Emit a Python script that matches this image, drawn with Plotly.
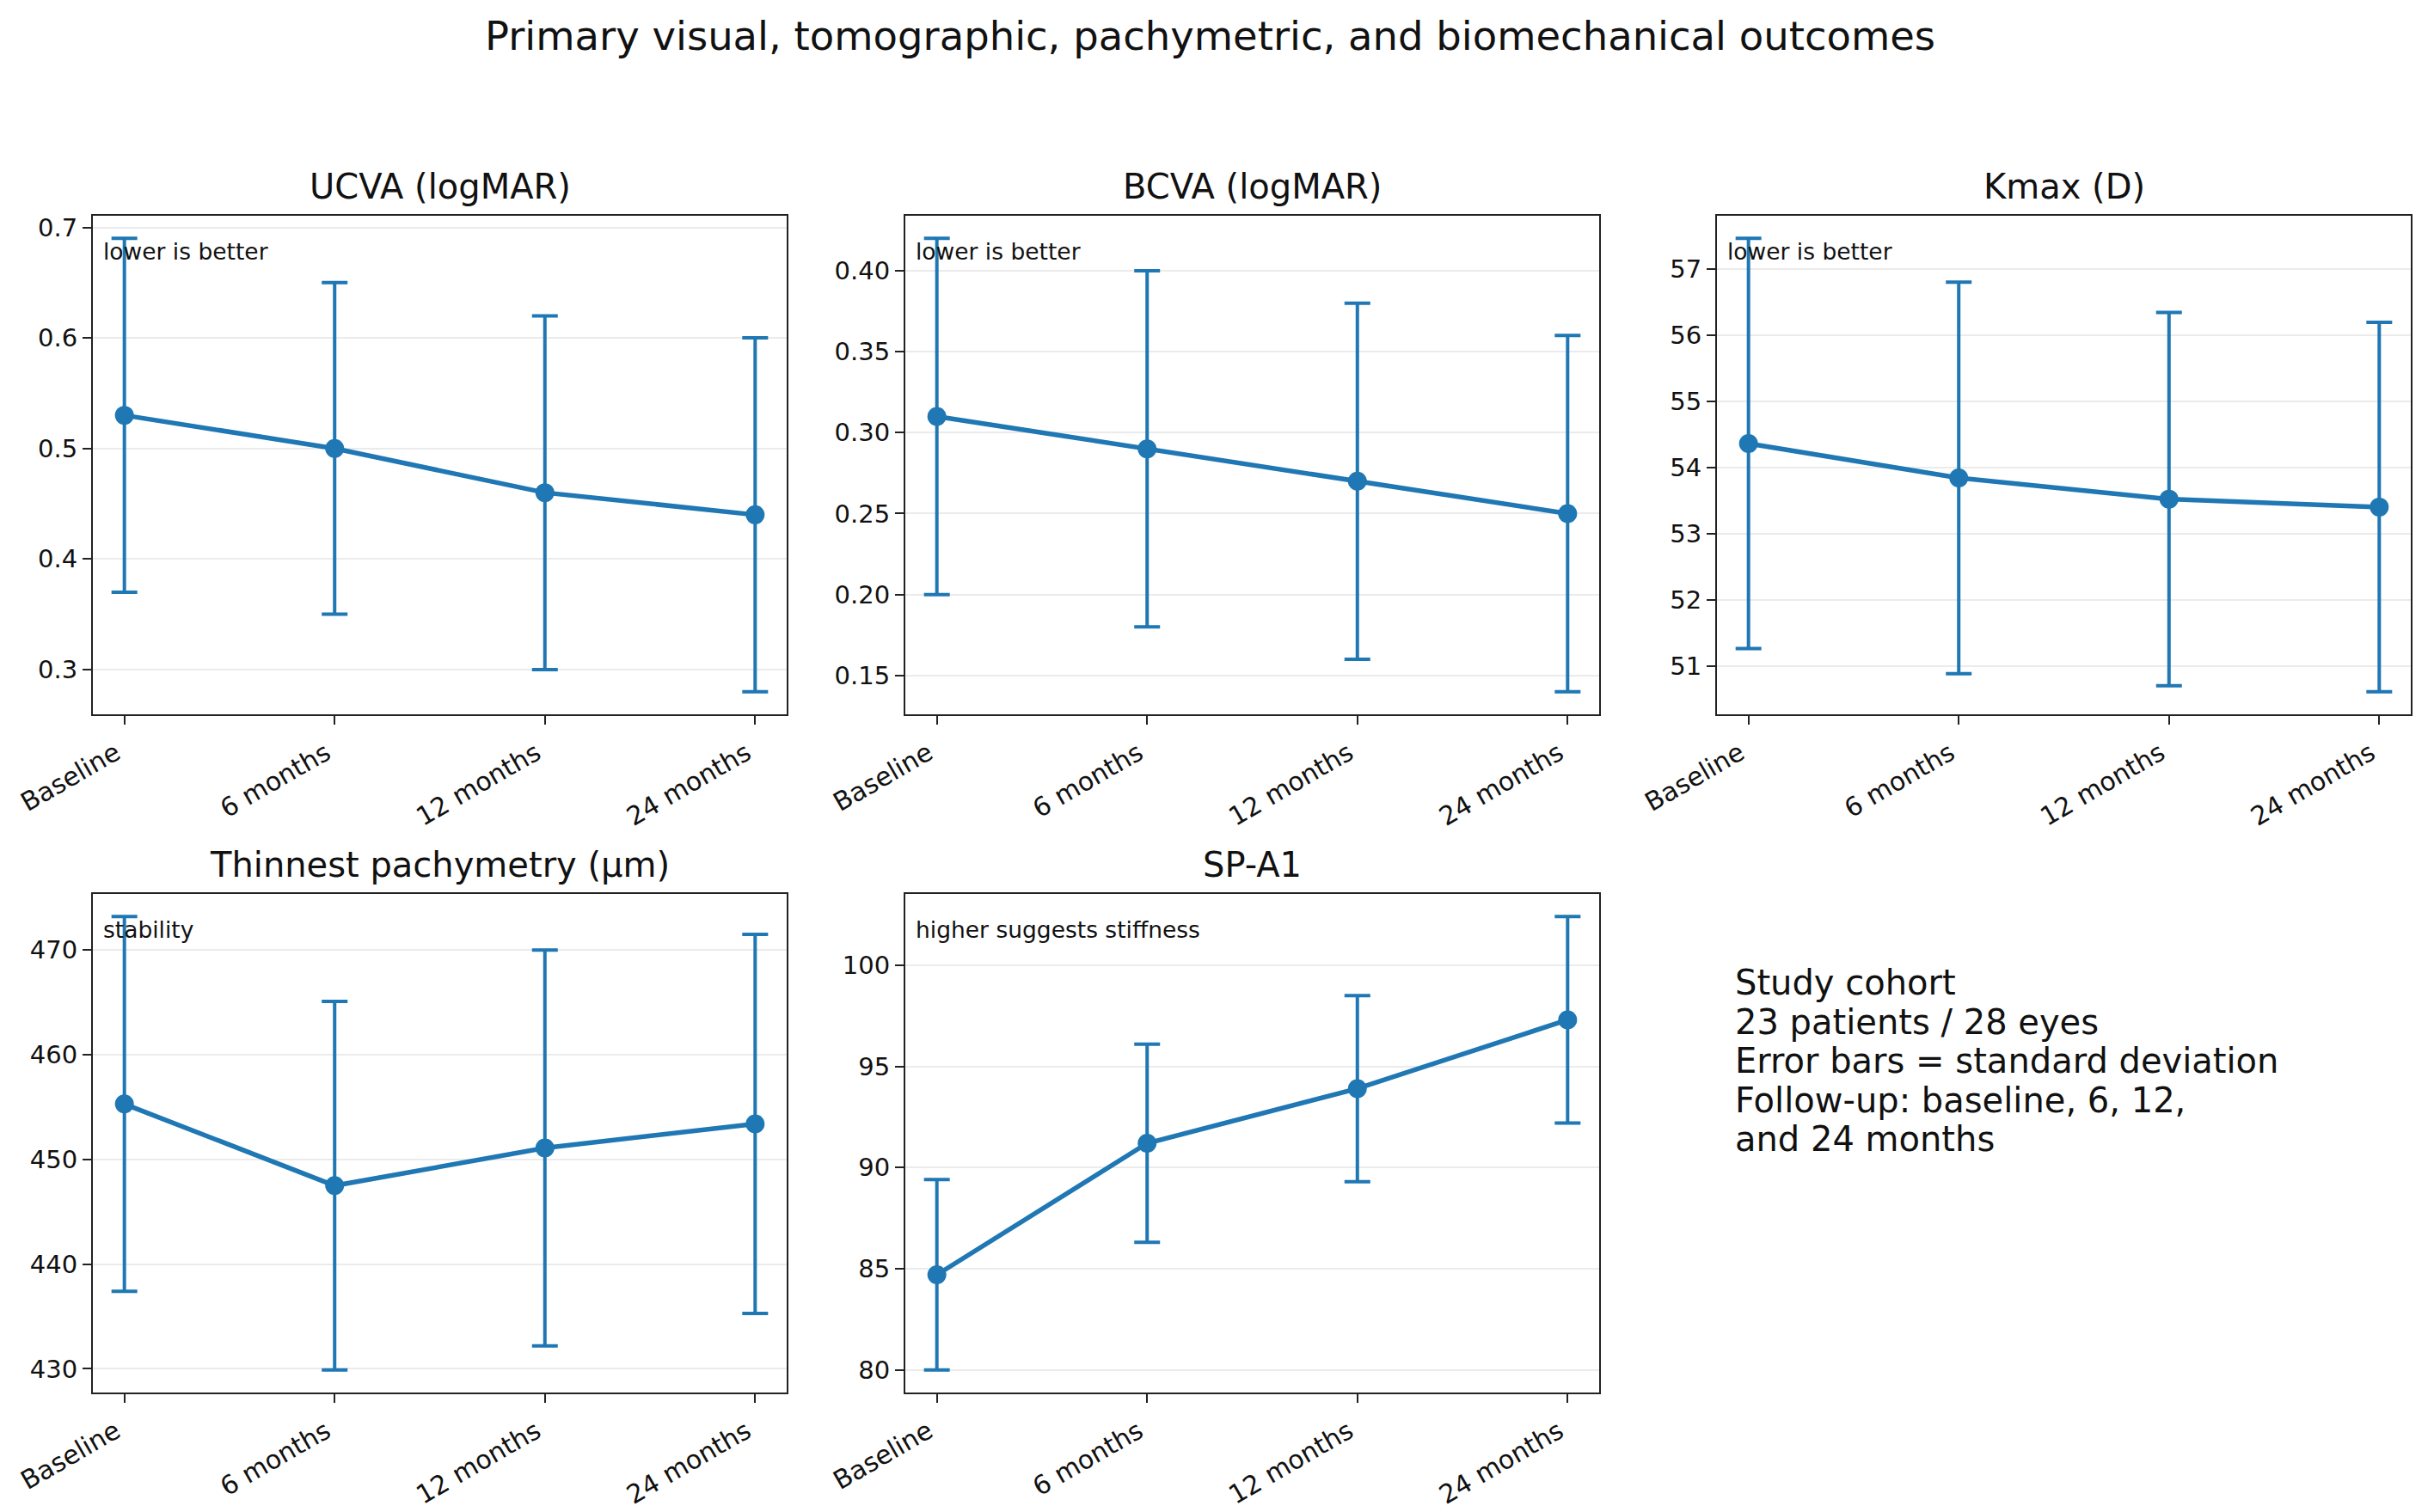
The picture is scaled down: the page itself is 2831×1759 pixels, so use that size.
import plotly.graph_objects as go

timepoints = ["Baseline", "6 months", "12 months", "24 months"]

ucva_mean = [0.53, 0.50, 0.46, 0.44]
ucva_sd = [0.16, 0.15, 0.16, 0.16]

bcva_mean = [0.31, 0.29, 0.27, 0.25]
bcva_sd = [0.11, 0.11, 0.11, 0.11]

kmax_mean = [54.36, 53.84, 53.52, 53.40]
kmax_sd = [3.10, 2.96, 2.82, 2.79]

pachy_mean = [455.3, 447.5, 451.1, 453.4]
pachy_sd = [17.9, 17.6, 18.9, 18.1]

spa1_mean = [84.7, 91.2, 93.9, 97.3]
spa1_sd = [4.7, 4.9, 4.6, 5.1]

panels = [
    ("UCVA (logMAR)", ucva_mean, ucva_sd, "lower is better", 0.1, ".1f"),
    ("BCVA (logMAR)", bcva_mean, bcva_sd, "lower is better", 0.05, ".2f"),
    ("Kmax (D)", kmax_mean, kmax_sd, "lower is better", 1, "d"),
    ("Thinnest pachymetry (µm)", pachy_mean, pachy_sd, "stability", 10, "d"),
    ("SP-A1", spa1_mean, spa1_sd, "higher suggests stiffness", 5, "d"),
]

cohort_lines = [
    "Study cohort",
    "23 patients / 28 eyes",
    "Error bars = standard deviation",
    "Follow-up: baseline, 6, 12,",
    "and 24 months",
]

W, H = 2831, 1759
FONT = "DejaVu Sans"
BLUE = "#1f77b4"
TXT = "#111111"

col_px = [(108, 915), (1053, 1860), (1997, 2804)]
row_px = [(251, 831), (1040, 1620)]
positions = [(0, 0), (0, 1), (0, 2), (1, 0), (1, 1)]

fig = go.Figure()
layout = dict(
    width=W, height=H,
    margin=dict(l=0, r=0, t=0, b=0, autoexpand=False),
    paper_bgcolor="white", plot_bgcolor="white",
    showlegend=False,
    font=dict(family=FONT, color=TXT),
    annotations=[],
)

x_idx = list(range(len(timepoints)))

for i, (title, mean, sd, note, dtick, fmt) in enumerate(panels):
    r, c = positions[i]
    n = i + 1
    xa = "x" if n == 1 else f"x{n}"
    ya = "y" if n == 1 else f"y{n}"
    x0, x1 = col_px[c]
    y0, y1 = row_px[r]
    fig.add_trace(go.Scatter(
        x=x_idx, y=mean, xaxis=xa, yaxis=ya,
        mode="lines+markers",
        line=dict(color=BLUE, width=5.5),
        marker=dict(color=BLUE, size=22),
        error_y=dict(type="data", array=sd, visible=True, color=BLUE,
                     thickness=4, width=15),
        hoverinfo="skip",
    ))
    lo = min(m - s for m, s in zip(mean, sd))
    hi = max(m + s for m, s in zip(mean, sd))
    pad = (hi - lo) * 0.05
    common = dict(showline=True, mirror=True, linecolor="#222222", linewidth=2.2,
                  ticks="outside", ticklen=10, tickwidth=2.2, tickcolor="#222222",
                  zeroline=False, automargin=False)
    layout["xaxis" if n == 1 else f"xaxis{n}"] = dict(
        domain=[x0 / W, x1 / W], anchor=ya,
        range=[-0.15, 3.15], tickmode="array", tickvals=x_idx, ticktext=timepoints,
        tickangle=-30, showgrid=False, ticklabelshift=-10, ticklabelstandoff=4,
        tickfont=dict(family=FONT, size=30, color=TXT), **common)
    layout["yaxis" if n == 1 else f"yaxis{n}"] = dict(
        domain=[1 - y1 / H, 1 - y0 / H], anchor=xa,
        range=[lo - pad, hi + pad], dtick=dtick, tickformat=fmt,
        showgrid=True, gridcolor="#ebebeb", gridwidth=2,
        tickfont=dict(family=FONT, size=29, color=TXT), **common)
    # subplot title
    layout["annotations"].append(dict(
        text=title, xref=f"{xa} domain", yref="paper",
        x=0.5, y=1 - (y0 - 34) / H, xanchor="center", yanchor="middle",
        showarrow=False, font=dict(family=FONT, size=40, color=TXT)))
    # note
    layout["annotations"].append(dict(
        text=note, xref=f"{xa} domain", yref=f"{ya} domain",
        x=0.013, y=0.958, xanchor="left", yanchor="top",
        showarrow=False, font=dict(family=FONT, size=26.5, color=TXT)))

layout["annotations"].append(dict(
    text="Primary visual, tomographic, pachymetric, and biomechanical outcomes",
    xref="paper", yref="paper", x=1407 / W, y=1 - 42 / H,
    xanchor="center", yanchor="middle", showarrow=False,
    font=dict(family=FONT, size=46.5, color=TXT)))

for k, line in enumerate(cohort_lines):
    layout["annotations"].append(dict(
        text=line, xref="paper", yref="paper",
        x=2016 / W, y=1 - (1143 + 45.5 * k) / H,
        xanchor="left", yanchor="middle", align="left", showarrow=False,
        font=dict(family=FONT, size=40, color=TXT)))

fig.update_layout(**layout)
fig.write_html("out.html")
